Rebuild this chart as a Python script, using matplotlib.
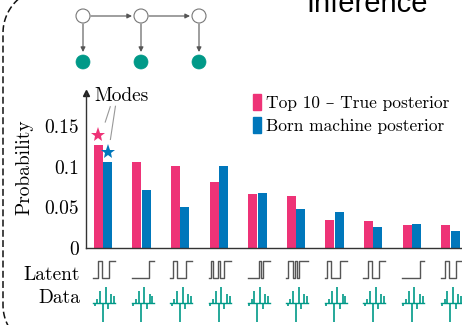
import numpy as np
import matplotlib
matplotlib.use("Agg")
import matplotlib.pyplot as plt
import matplotlib.transforms as mtransforms
from matplotlib.patches import Patch, Circle

plt.rcParams['font.family'] = ['cmr10', 'DejaVu Serif']
plt.rcParams['mathtext.fontset'] = 'cm'
plt.rcParams['axes.unicode_minus'] = False

# posterior probabilities of the ten most likely latent configurations
true_post = [0.127, 0.106, 0.101, 0.081, 0.067, 0.064, 0.035, 0.033, 0.029, 0.028]
born_post = [0.106, 0.071, 0.051, 0.101, 0.068, 0.048, 0.044, 0.026, 0.030, 0.021]

# latent bit strings for each configuration
latent_bits = [
    [0, 0, 1, 1, 0, 0, 0, 1, 1, 1],
    [0, 0, 0, 0, 0, 0, 0, 0, 1, 1],
    [0, 1, 1, 0, 0, 0, 0, 1, 1, 1],
    [0, 1, 0, 0, 1, 0, 0, 1, 1, 1],
    [0, 0, 0, 0, 0, 1, 0, 1, 1, 1],
    [0, 1, 1, 0, 1, 0, 1, 1, 1, 1],
    [0, 1, 1, 0, 0, 0, 0, 1, 1, 1],
    [0, 0, 1, 1, 0, 0, 0, 1, 1, 1],
    [0, 0, 0, 0, 0, 0, 0, 0, 1, 1],
    [0, 0, 1, 1, 0, 0, 0, 1, 1, 1],
]

# observed data (same for every column)
observed = [-0.15, 0.2, 0.6, -0.95, 0.8, -0.3, 0.45, 0.35]

ytick_vals = [0, 0.05, 0.1, 0.15]
ytick_labels = ['0', '0.05', '0.1', '0.15']
legend_labels = ['Top 10 \u2013 True posterior', 'Born machine posterior']

pink = '#EE3377'
blue = '#0077BB'
teal = '#009988'

W, H = 462, 325
fig = plt.figure(figsize=(W / 100, H / 100), dpi=100)

# background layer in pixel coordinates for the decorations
bg = fig.add_axes([0, 0, 1, 1])
bg.set_xlim(0, W)
bg.set_ylim(H, 0)
bg.axis('off')

# rounded dashed frame on the left
r = 45
t = np.linspace(np.pi / 2, 0, 30)
top_arc = np.column_stack([3 + r - r * np.cos(t), 33 - r * np.sin(t)])
bot_arc = np.column_stack([3 + r - r * np.cos(t[::-1]), 305 + r * np.sin(t[::-1])])
frame = np.vstack([top_arc, bot_arc])
bg.plot(frame[:, 0], frame[:, 1], color='#111111', lw=1.1, ls=(0, (4.5, 2.2)))

# small graphical model: latent chain with emissions
node_x = [83, 141, 199]
for k, nx in enumerate(node_x):
    bg.add_patch(Circle((nx, 16), 7, fc='white', ec='#777777', lw=0.8))
    bg.add_patch(Circle((nx, 62), 7, fc=teal, ec=teal, lw=0.5))
    bg.annotate('', xy=(nx, 52), xytext=(nx, 24),
                arrowprops=dict(arrowstyle='-|>', color='#555555', lw=0.8,
                                mutation_scale=7, shrinkA=0, shrinkB=0))
    if k < len(node_x) - 1:
        bg.annotate('', xy=(node_x[k + 1] - 9, 16), xytext=(nx + 8, 16),
                    arrowprops=dict(arrowstyle='-|>', color='#555555', lw=0.8,
                                    mutation_scale=7, shrinkA=0, shrinkB=0))

fig.text(367 / W, 1 - 12 / H, 'Inference', family='Liberation Sans',
         fontsize=21, ha='center', va='baseline')

# main bar chart
ax_bottom, ax_top = 248, 92.5
ax = fig.add_axes([86 / W, 1 - ax_bottom / H, (W - 86) / W, (ax_bottom - ax_top) / H])
ax.patch.set_alpha(0)
n = len(true_post)
x = np.arange(n)
bw = 0.235
ax.bar(x - 0.122, true_post, bw, color=pink, label=legend_labels[0])
ax.bar(x + 0.122, born_post, bw, color=blue, label=legend_labels[1])
ax.set_xlim(-0.4404, 9.3005)
ax.set_ylim(0, 0.192)
ax.set_xticks([])
ax.set_yticks(ytick_vals)
ax.set_yticklabels(ytick_labels)
ax.tick_params(axis='y', length=0, pad=5, labelsize=14)
for s in ['top', 'right']:
    ax.spines[s].set_visible(False)
for s in ['left', 'bottom']:
    ax.spines[s].set_color('#333333')
    ax.spines[s].set_linewidth(1.0)
ax.plot(0, 1.0, marker='^', color='#222222', ms=4.5, transform=ax.transAxes, clip_on=False)

fig.text(24.5 / W, 1 - 167 / H, 'Probability', rotation=90, ha='center', va='center', fontsize=14)

# mark the modes of both distributions
i_true = int(np.argmax(true_post))
i_born = int(np.argmax(born_post))
star_t = (i_true - 0.122, true_post[i_true] + 0.0125)
star_b = (i_born + 0.122, born_post[i_born] + 0.012)
ax.plot(*star_t, marker='*', color=pink, ms=11, mew=0, clip_on=False)
ax.plot(*star_b, marker='*', color=blue, ms=11, mew=0, clip_on=False)
ax.text(-0.23, 0.188, 'Modes', fontsize=14, va='center', ha='left')
ax.plot([star_t[0] + 0.18, star_t[0] + 0.31], [star_t[1] + 0.016, star_t[1] + 0.035],
        color='#999999', lw=0.8, clip_on=False)
ax.plot([star_b[0] + 0.07, star_b[0] + 0.2], [star_b[1] + 0.016, star_b[1] + 0.057],
        color='#999999', lw=0.8, clip_on=False)

ax.legend(handles=[Patch(color=pink), Patch(color=blue)], labels=legend_labels,
          loc='upper left', bbox_to_anchor=(253 / W, 1 - 94 / H), bbox_transform=fig.transFigure,
          frameon=False, fontsize=12.5, handlelength=0.46, handleheight=1.03,
          handletextpad=0.3, labelspacing=0.38, borderpad=0, borderaxespad=0)

# glyph rows under the axis: latent sequences and observed data
ax_h = ax_bottom - ax_top


def frac(y_px):
    return (ax_bottom - y_px) / ax_h


blend = mtransforms.blended_transform_factory(ax.transData, ax.transAxes)
gw = 0.57
for i, bits in enumerate(latent_bits):
    cx = i + 0.03
    m = len(bits)
    xs = np.repeat(np.arange(m + 1), 2)[1:-1] / m * gw + cx - gw / 2
    ys = np.where(np.repeat(bits, 2) == 1, frac(261), frac(278))
    ax.plot(xs, ys, color='#555555', lw=1.0, transform=blend, clip_on=False)

    k = len(observed)
    sx = cx - 0.25 + np.arange(k) * 0.5 / (k - 1)
    base = frac(302.7)
    ax.plot([cx - gw / 2, cx + gw / 2], [base, base], color=teal, lw=1.0,
            transform=blend, clip_on=False)
    ax.vlines(sx, base, base + np.array(observed) * 20 / ax_h, color=teal, lw=1.2,
              transform=blend, clip_on=False)

fig.text(80 / W, 1 - 280 / H, 'Latent', fontsize=14, ha='right', va='baseline')
fig.text(80 / W, 1 - 302.7 / H, 'Data', fontsize=14, ha='right', va='baseline')

fig.savefig('out.png', dpi=100)
